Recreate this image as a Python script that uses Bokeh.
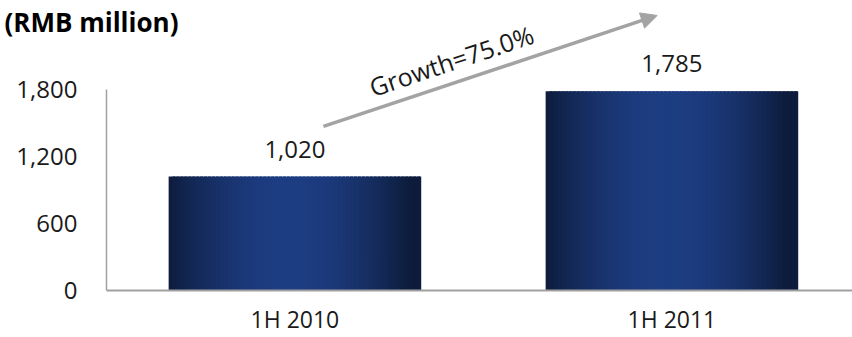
import math
from bokeh.plotting import figure
from bokeh.models import (Range1d, FixedTicker, NumeralTickFormatter, Label,
                          Arrow, NormalHead, ColumnDataSource)
from bokeh.core.properties import value
from bokeh.embed import file_html
from bokeh.resources import INLINE

# ---- data ----
categories = ["1H 2010", "1H 2011"]
values = [1020, 1785]
value_labels = ["1,020", "1,785"]
y_ticks = [0, 600, 1200, 1800]
unit_title = "(RMB million)"
growth_text = "Growth=75.0%"

# ---- styling constants ----
FONT = "Open Sans"
TXT = "#1a1a1a"
AXIS_GRAY = "#a0a0a0"
ARROW_GRAY = "#a3a3a3"
EDGE = (13, 28, 60)
CENTER = (29, 61, 130)
BAR_W = 0.67
N_STRIPS = 64

p = figure(width=852, height=337, output_backend="svg", toolbar_location=None,
           x_range=Range1d(-0.781, 1.479), y_range=Range1d(-421, 2597),
           min_border_left=0, min_border_right=0, min_border_top=0,
           min_border_bottom=0)
p.outline_line_color = None
p.grid.visible = False
p.background_fill_color = "white"
p.border_fill_color = "white"

# gradient bars made of narrow, slightly overlapping strips
lefts, rights, tops, colors = [], [], [], []
for i, v in enumerate(values):
    x0 = i - BAR_W / 2
    dw = BAR_W / N_STRIPS
    for k in range(N_STRIPS):
        t = (k + 0.5) / N_STRIPS
        s = math.sin(math.pi * min(1.0, t / 0.95)) ** 0.9
        c = tuple(int(round(EDGE[j] + (CENTER[j] - EDGE[j]) * s)) for j in range(3))
        lefts.append(x0 + k * dw)
        rights.append(min(x0 + (k + 1.7) * dw, x0 + BAR_W))
        tops.append(v)
        colors.append("#%02x%02x%02x" % c)
src = ColumnDataSource(dict(l=lefts, r=rights, top=tops, c=colors))
p.quad(left="l", right="r", top="top", bottom=0, fill_color="c", line_color=None,
       source=src)

# value labels
lab_src = ColumnDataSource(dict(x=list(range(len(values))), y=values, t=value_labels))
p.text(x="x", y="y", text="t", source=lab_src, text_align="center",
       text_baseline="bottom", y_offset=-19, text_font=value(FONT),
       text_font_size="24px", text_color=TXT)

# axes
p.yaxis.fixed_location = -0.5
p.yaxis.ticker = FixedTicker(ticks=y_ticks)
p.yaxis.formatter = NumeralTickFormatter(format="0,0")
p.yaxis.bounds = (0, 1800)
p.yaxis.major_tick_line_color = None
p.yaxis.minor_tick_line_color = None
p.yaxis.axis_line_color = AXIS_GRAY
p.yaxis.axis_line_width = 1.5
p.yaxis.major_label_text_font = FONT
p.yaxis.major_label_text_font_size = "24px"
p.yaxis.major_label_text_color = TXT
p.yaxis.major_label_standoff = 23

p.xaxis.fixed_location = 0
p.xaxis.ticker = FixedTicker(ticks=list(range(len(categories))))
p.xaxis.major_label_overrides = {i: c for i, c in enumerate(categories)}
p.xaxis.bounds = (-0.5, 1.479)
p.xaxis.major_tick_line_color = None
p.xaxis.minor_tick_line_color = None
p.xaxis.axis_line_color = AXIS_GRAY
p.xaxis.axis_line_width = 2
p.xaxis.major_label_text_font = FONT
p.xaxis.major_label_text_font_size = "23px"
p.xaxis.major_label_text_color = TXT
p.xaxis.major_label_standoff = 7

# growth arrow and text
p.add_layout(Arrow(end=NormalHead(size=16, fill_color=ARROW_GRAY, line_color=ARROW_GRAY),
                   x_start=0.0756, y_start=1469, x_end=0.961, y_end=2463,
                   line_color=ARROW_GRAY, line_width=3.5))
p.add_layout(Label(x=0.415, y=2060, text=growth_text, angle=18.5, angle_units="deg",
                   text_align="center", text_baseline="middle", text_font=FONT,
                   text_font_size="25px", text_color=TXT))

# unit title
p.add_layout(Label(x=4, y=337 - 21, x_units="screen", y_units="screen",
                   text=unit_title, text_align="left", text_baseline="middle",
                   text_font=FONT, text_font_style="bold", text_font_size="26px",
                   text_color="#000000"))

open("out.html", "w").write(file_html(p, INLINE))
